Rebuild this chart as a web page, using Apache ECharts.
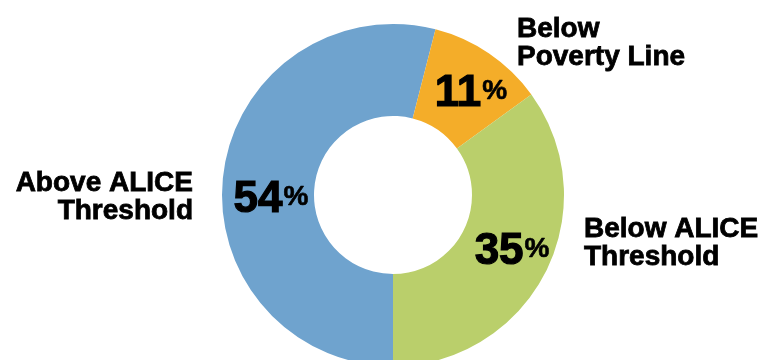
<!DOCTYPE html>
<html>
<head>
<meta charset="utf-8">
<script src="https://cdn.jsdelivr.net/npm/echarts@6/dist/echarts.min.js"></script>
<style>
  html, body { margin: 0; padding: 0; background: #fff; }
  #chart { width: 761px; height: 360px; }
</style>
</head>
<body>
<div id="chart"></div>
<script>
// data
const names = ['Above ALICE\nThreshold', 'Below\nPoverty Line', 'Below ALICE\nThreshold']
const values = [54, 11, 35]
const colors = ['#6fa3ce', '#f4ad29', '#bacf6b']

// where the outside names sit (x, y, align)
const namePos = [[193, 197, 'right'], [517, 43, 'left'], [584, 243, 'left']]
// nudge for the inside percent labels
const pctOffset = [[5, 21], [6, 5], [5, -1]]

let chart = echarts.init(document.getElementById('chart'), null, {renderer: 'canvas'})

const font = '"Liberation Sans", Arial, sans-serif'

chart.setOption({
    animation: false,
    series: [
        {
            // slices + percent
            type: 'pie',
            center: [393, 195],
            radius: [79, 171],
            startAngle: 270,
            clockwise: true,
            silent: true,
            data: values.map((v, i) => ({
                value: v,
                name: names[i],
                itemStyle: {color: colors[i]},
                label: {offset: pctOffset[i]}
            })),
            label: {
                show: true,
                position: 'inside',
                overflow: 'none',
                formatter: p => '{num|' + p.value + '}{pct|%}',
                rich: {
                    num: {fontFamily: font, fontWeight: 'bold', fontSize: 44, color: '#000',
                          textBorderColor: '#000', textBorderWidth: 1.2},
                    pct: {fontFamily: font, fontWeight: 'bold', fontSize: 28, color: '#000', padding: [0, 0, 6, 1],
                          textBorderColor: '#000', textBorderWidth: 0.6}
                }
            },
            labelLine: {show: false}
        },
        {
            // names outside, drawn on an invisible copy
            type: 'pie',
            center: [393, 195],
            radius: [79, 171],
            startAngle: 270,
            silent: true,
            itemStyle: {color: 'rgba(0,0,0,0)'},
            data: values.map((v, i) => ({value: v, name: names[i]})),
            label: {
                show: true,
                position: 'outside',
                overflow: 'none',
                formatter: '{b}',
                fontFamily: font,
                fontWeight: 'bold',
                fontSize: 28,
                lineHeight: 28,
                color: '#000',
                textBorderColor: '#000',
                textBorderWidth: 0.8
            },
            labelLine: {show: false},
            labelLayout: p => ({
                x: namePos[p.dataIndex][0],
                y: namePos[p.dataIndex][1],
                align: namePos[p.dataIndex][2],
                verticalAlign: 'middle'
            })
        }
    ]
})
</script>
</body>
</html>
